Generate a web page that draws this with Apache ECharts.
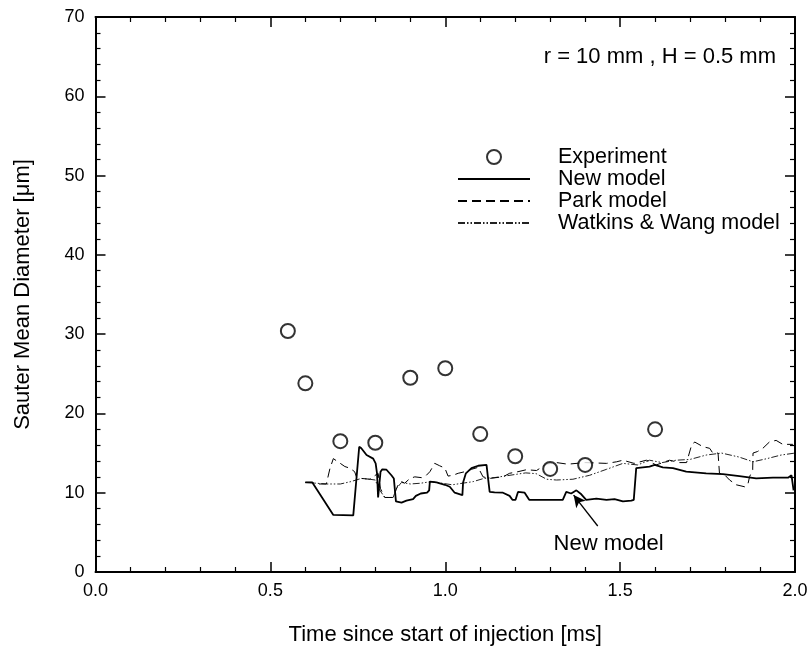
<!DOCTYPE html>
<html>
<head>
<meta charset="utf-8">
<script src="https://cdn.jsdelivr.net/npm/echarts@6/dist/echarts.min.js"></script>
<style>
  html, body { margin: 0; padding: 0; background: #fff; }
  #chart { width: 811px; height: 647px; }
</style>
</head>
<body>
<div id="chart"></div>
<script>
// Measured Sauter mean diameter [μm] against time since start of injection [ms]
const experiment = [
  [0.55, 30.4], [0.60, 23.8], [0.70, 16.5], [0.80, 16.3], [0.90, 24.5],
  [1.00, 25.7], [1.10, 17.4], [1.20, 14.6], [1.30, 13.0], [1.40, 13.5], [1.60, 18.0]
];

// New model prediction
const newModel = [
  [0.600, 11.3], [0.620, 11.3], [0.680, 7.2], [0.737, 7.15], [0.754, 15.8], [0.760, 15.6],
  [0.775, 14.75], [0.794, 14.3], [0.801, 13.7], [0.805, 12.4], [0.808, 9.4], [0.815, 12.65],
  [0.820, 12.95], [0.832, 12.9], [0.846, 12.2], [0.853, 11.8], [0.859, 8.9], [0.875, 8.75],
  [0.889, 9.0], [0.908, 9.2], [0.916, 9.6], [0.930, 9.9], [0.948, 10.0], [0.954, 10.3],
  [0.956, 11.4], [0.975, 11.3], [0.999, 11.0], [1.013, 10.75], [1.027, 10.0], [1.049, 9.7],
  [1.051, 11.3], [1.059, 12.45], [1.075, 13.1], [1.094, 13.4], [1.118, 13.5], [1.124, 11.2],
  [1.127, 10.1], [1.141, 10.05], [1.165, 10.0], [1.184, 9.6], [1.192, 9.1], [1.201, 9.1],
  [1.208, 10.1], [1.227, 10.0], [1.240, 9.1], [1.299, 9.1], [1.336, 9.1], [1.346, 10.1],
  [1.360, 9.9], [1.375, 10.3], [1.389, 9.8], [1.403, 9.1], [1.432, 9.25], [1.461, 9.1],
  [1.484, 9.2], [1.508, 8.9], [1.532, 9.0], [1.539, 9.1], [1.546, 13.1], [1.584, 13.3],
  [1.599, 13.5], [1.622, 13.2], [1.651, 13.1], [1.689, 12.65], [1.746, 12.45], [1.794, 12.35],
  [1.841, 12.1], [1.889, 11.8], [1.937, 11.9], [1.980, 11.9], [1.990, 12.2], [1.996, 10.3]
];

// Park model prediction
const parkModel = [
  [0.600, 11.3], [0.620, 11.3], [0.630, 11.1], [0.660, 11.1], [0.670, 13.0], [0.680, 14.3],
  [0.700, 13.7], [0.713, 13.3], [0.727, 13.1], [0.741, 12.65], [0.746, 12.0], [0.761, 11.8],
  [0.784, 11.7], [0.808, 12.45], [0.815, 10.5], [0.827, 9.4], [0.851, 9.4], [0.865, 11.0],
  [0.875, 11.4], [0.884, 11.2], [0.899, 11.8], [0.913, 12.0], [0.932, 11.9], [0.946, 12.2],
  [0.956, 12.65], [0.970, 13.7], [0.984, 13.4], [0.999, 13.1], [1.008, 12.1], [1.022, 12.2],
  [1.037, 12.45], [1.056, 12.65], [1.075, 12.95], [1.094, 13.2], [1.108, 12.0], [1.127, 11.8],
  [1.145, 11.9], [1.165, 12.0], [1.184, 12.45], [1.208, 12.65], [1.232, 12.9], [1.261, 12.8],
  [1.289, 13.6], [1.318, 13.8], [1.350, 13.6], [1.400, 13.8], [1.461, 13.7], [1.490, 13.9],
  [1.508, 14.1], [1.540, 13.7], [1.575, 14.1], [1.603, 13.5], [1.641, 14.1], [1.670, 13.8],
  [1.690, 13.8], [1.703, 15.8], [1.713, 16.4], [1.737, 15.8], [1.756, 15.6], [1.765, 15.0],
  [1.780, 15.0], [1.784, 12.45], [1.800, 12.2], [1.813, 11.6], [1.832, 11.0], [1.856, 10.75],
  [1.865, 11.0], [1.870, 12.0], [1.879, 12.9], [1.880, 15.0], [1.893, 15.2], [1.908, 15.6],
  [1.927, 16.4], [1.946, 16.6], [1.965, 16.1], [1.994, 16.1]
];

// Watkins & Wang model prediction
const watkinsWangModel = [
  [0.600, 11.3], [0.630, 11.2], [0.660, 11.1], [0.700, 11.1], [0.730, 11.4], [0.760, 11.8],
  [0.784, 11.7], [0.800, 11.6], [0.810, 10.5], [0.827, 9.4], [0.851, 9.4], [0.860, 10.5],
  [0.875, 11.3], [0.900, 11.1], [0.930, 11.2], [0.960, 11.4], [0.990, 11.2], [1.020, 11.0],
  [1.050, 11.2], [1.080, 11.4], [1.110, 11.8], [1.140, 11.9], [1.170, 12.1], [1.200, 12.3],
  [1.230, 12.5], [1.260, 12.4], [1.290, 11.7], [1.318, 11.6], [1.365, 11.7], [1.413, 12.2],
  [1.461, 12.95], [1.508, 13.7], [1.550, 13.5], [1.584, 14.1], [1.620, 13.8], [1.660, 14.1],
  [1.700, 14.2], [1.746, 14.75], [1.790, 15.0], [1.840, 14.5], [1.880, 13.9], [1.920, 14.3],
  [1.960, 14.75], [2.000, 15.0]
];

// Annotation pointing at the new model curve
const annotationArrow = [[1.436, 5.8], [1.367, 9.7]];
const annotationLabel = [1.467, 3.6];

const xTicks = { min: 0, max: 2, interval: 0.5 };
const yTicks = { min: 0, max: 70, interval: 10 };

const FONT = '"Liberation Sans", Arial, Helvetica, sans-serif';
const INK = '#000';

function frameAxis(cfg, extra) {
  return Object.assign({
    type: 'value',
    min: cfg.min,
    max: cfg.max,
    interval: cfg.interval,
    axisLine: { show: true, onZero: false, lineStyle: { color: INK, width: 2 } },
    axisTick: { show: true, inside: true, length: 10, lineStyle: { color: INK, width: 1.5 } },
    minorTick: { show: true, splitNumber: 5, length: 5, lineStyle: { color: INK, width: 1.2 } },
    splitLine: { show: false },
    minorSplitLine: { show: false }
  }, extra);
}

const chart = echarts.init(document.getElementById('chart'), null, { renderer: 'canvas' });

chart.setOption({
  backgroundColor: '#fff',
  animation: false,
  textStyle: { fontFamily: FONT, color: INK },
  title: {
    text: 'r = 10 mm , H = 0.5 mm',
    right: 35,
    top: 46,
    padding: 0,
    textStyle: { fontFamily: FONT, fontSize: 22, fontWeight: 'normal', color: INK }
  },
  grid: {
    left: 95.5, right: 16, top: 17, bottom: 75,
    containLabel: false,
    outerBoundsMode: 'none'
  },
  legend: {
    orient: 'vertical',
    left: 457,
    top: 146,
    padding: 0,
    itemWidth: 72,
    itemHeight: 14,
    itemGap: 0,
    selectedMode: false,
    data: [
      { name: 'Experiment' },
      { name: 'New model', itemStyle: { opacity: 0 } },
      { name: 'Park model', itemStyle: { opacity: 0 } },
      { name: 'Watkins & Wang model', itemStyle: { opacity: 0 } }
    ],
    textStyle: { fontFamily: FONT, fontSize: 21.5, color: INK, padding: [0, 0, 0, 23] }
  },
  xAxis: [
    frameAxis(xTicks, {
      position: 'bottom',
      name: 'Time since start of injection [ms]',
      nameLocation: 'middle',
      nameGap: 52,
      nameTextStyle: { fontFamily: FONT, fontSize: 22, color: INK },
      axisLabel: {
        margin: 10, fontFamily: FONT, fontSize: 18, color: INK,
        formatter: v => v.toFixed(1)
      }
    }),
    frameAxis(xTicks, { position: 'top', axisLabel: { show: false } })
  ],
  yAxis: [
    frameAxis(yTicks, {
      position: 'left',
      name: 'Sauter Mean Diameter [\u03bcm]',
      nameLocation: 'middle',
      nameGap: 62,
      nameRotate: 90,
      nameTextStyle: { fontFamily: FONT, fontSize: 22, color: INK },
      axisLabel: { margin: 11, fontFamily: FONT, fontSize: 18, color: INK }
    }),
    frameAxis(yTicks, { position: 'right', axisLabel: { show: false } })
  ],
  series: [
    {
      name: 'Experiment',
      type: 'scatter',
      data: experiment,
      symbol: 'emptyCircle',
      symbolSize: 14,
      itemStyle: { color: INK, borderColor: INK, borderWidth: 1.4 },
      z: 5
    },
    {
      name: 'New model',
      type: 'line',
      data: newModel,
      symbol: 'none',
      lineStyle: { color: INK, width: 1.8, type: 'solid' },
      itemStyle: { color: INK },
      z: 4,
      markLine: {
        silent: true,
        symbol: ['none', 'arrow'],
        symbolSize: [9, 12],
        lineStyle: { color: INK, width: 1.3, type: 'solid' },
        label: { show: false },
        data: [[
          { coord: annotationArrow[0] },
          { coord: annotationArrow[1] }
        ]]
      },
      markPoint: {
        silent: true,
        data: [{
          coord: annotationLabel,
          symbol: 'circle',
          symbolSize: 1,
          itemStyle: { color: 'rgba(0,0,0,0)' },
          label: {
            show: true, position: 'inside', formatter: 'New model',
            fontFamily: FONT, fontSize: 22, color: INK
          }
        }]
      }
    },
    {
      name: 'Park model',
      type: 'line',
      data: parkModel,
      symbol: 'none',
      lineStyle: { color: INK, width: 1, type: [9, 5] },
      itemStyle: { color: INK },
      z: 3
    },
    {
      name: 'Watkins & Wang model',
      type: 'line',
      data: watkinsWangModel,
      symbol: 'none',
      lineStyle: { color: '#222', width: 1, type: [7, 2, 1.5, 2, 1.5, 2] },
      itemStyle: { color: '#222' },
      z: 2
    }
  ]
});
</script>
</body>
</html>
